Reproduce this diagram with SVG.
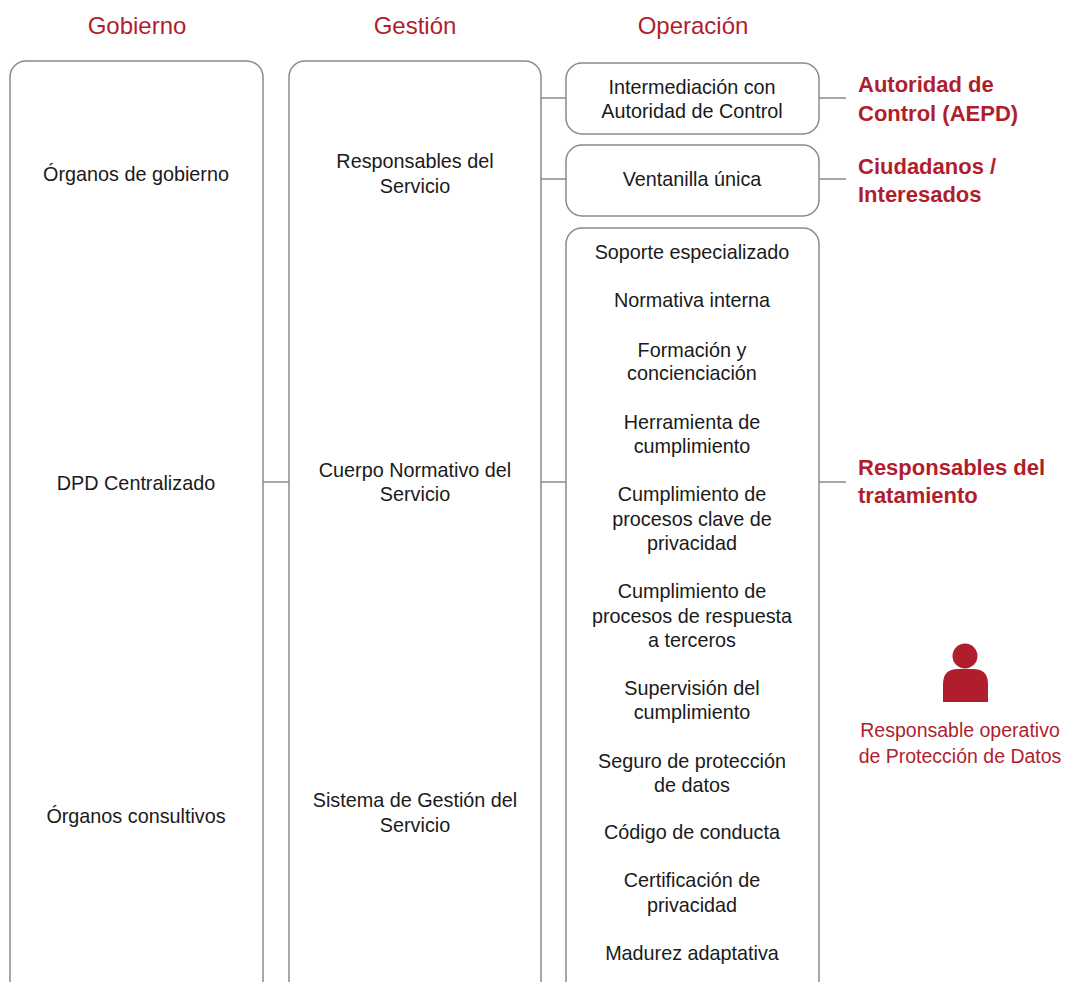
<svg xmlns="http://www.w3.org/2000/svg" width="1066" height="982" viewBox="0 0 1066 982">
<style>
.box{fill:#fff;stroke:#8a8a8a;stroke-width:1.5}
.ln{stroke:#8a8a8a;stroke-width:1.5;fill:none}
text{font-family:"Liberation Sans",Arial,sans-serif}
.t{font-size:19.8px;fill:#1a1a1a;text-anchor:middle}
.h{font-size:24px;fill:#b01e2e;text-anchor:middle}
.r{font-size:22px;font-weight:bold;fill:#b01e2e}
.rs{font-size:19.5px;fill:#b01e2e;text-anchor:middle}
</style>
<rect width="1066" height="982" fill="#fff"/>
<g id="headers">
<text class="h" x="137" y="34">Gobierno</text>
<text class="h" x="415" y="34">Gestión</text>
<text class="h" x="693" y="34">Operación</text>
</g>
<g id="connectors">
<line class="ln" x1="263" y1="482" x2="289" y2="482"/>
<line class="ln" x1="541" y1="98" x2="566" y2="98"/>
<line class="ln" x1="541" y1="179" x2="566" y2="179"/>
<line class="ln" x1="541" y1="482" x2="566" y2="482"/>
<line class="ln" x1="819" y1="98" x2="846" y2="98"/>
<line class="ln" x1="819" y1="179" x2="846" y2="179"/>
<line class="ln" x1="819" y1="482" x2="846" y2="482"/>
</g>
<g id="gobierno">
<rect class="box" x="10" y="61" width="253" height="935" rx="16"/>
<text class="t" x="136" y="181">Órganos de gobierno</text>
<text class="t" x="136" y="490">DPD Centralizado</text>
<text class="t" x="136" y="823">Órganos consultivos</text>
</g>
<g id="gestion">
<rect class="box" x="289" y="61" width="252" height="935" rx="16"/>
<text class="t" x="415" y="168">Responsables del</text>
<text class="t" x="415" y="193">Servicio</text>
<text class="t" x="415" y="477">Cuerpo Normativo del</text>
<text class="t" x="415" y="501">Servicio</text>
<text class="t" x="415" y="807">Sistema de Gestión del</text>
<text class="t" x="415" y="832">Servicio</text>
</g>
<g id="op-intermediacion">
<rect class="box" x="566" y="63" width="253" height="71" rx="16"/>
<text class="t" x="692" y="94">Intermediación con</text>
<text class="t" x="692" y="118">Autoridad de Control</text>
</g>
<g id="op-ventanilla">
<rect class="box" x="566" y="145" width="253" height="71" rx="16"/>
<text class="t" x="692" y="186">Ventanilla única</text>
</g>
<g id="op-servicios">
<rect class="box" x="566" y="228" width="253" height="770" rx="16"/>
<text class="t" x="692" y="259">Soporte especializado</text>
<text class="t" x="692" y="307">Normativa interna</text>
<text class="t" x="692" y="357">Formación y</text>
<text class="t" x="692" y="380">concienciación</text>
<text class="t" x="692" y="429">Herramienta de</text>
<text class="t" x="692" y="453">cumplimiento</text>
<text class="t" x="692" y="501">Cumplimiento de</text>
<text class="t" x="692" y="526">procesos clave de</text>
<text class="t" x="692" y="550">privacidad</text>
<text class="t" x="692" y="598">Cumplimiento de</text>
<text class="t" x="692" y="623">procesos de respuesta</text>
<text class="t" x="692" y="647">a terceros</text>
<text class="t" x="692" y="695">Supervisión del</text>
<text class="t" x="692" y="719">cumplimiento</text>
<text class="t" x="692" y="768">Seguro de protección</text>
<text class="t" x="692" y="792">de datos</text>
<text class="t" x="692" y="839">Código de conducta</text>
<text class="t" x="692" y="887">Certificación de</text>
<text class="t" x="692" y="912">privacidad</text>
<text class="t" x="692" y="960">Madurez adaptativa</text>
</g>
<g id="autoridad">
<text class="r" x="858" y="92">Autoridad de</text>
<text class="r" x="858" y="121">Control (AEPD)</text>
</g>
<g id="ciudadanos">
<text class="r" x="858" y="174">Ciudadanos /</text>
<text class="r" x="858" y="202">Interesados</text>
</g>
<g id="responsables">
<text class="r" x="858" y="475">Responsables del</text>
<text class="r" x="858" y="503">tratamiento</text>
</g>
<g id="responsable-operativo">
<circle cx="965" cy="656" r="12.5" fill="#b01e2e"/>
<path d="M943 702 L943 684 Q943 669 958 669 L973 669 Q988 669 988 684 L988 702 Z" fill="#b01e2e"/>
<text class="rs" x="960" y="737">Responsable operativo</text>
<text class="rs" x="960" y="763">de Protección de Datos</text>
</g>
</svg>
